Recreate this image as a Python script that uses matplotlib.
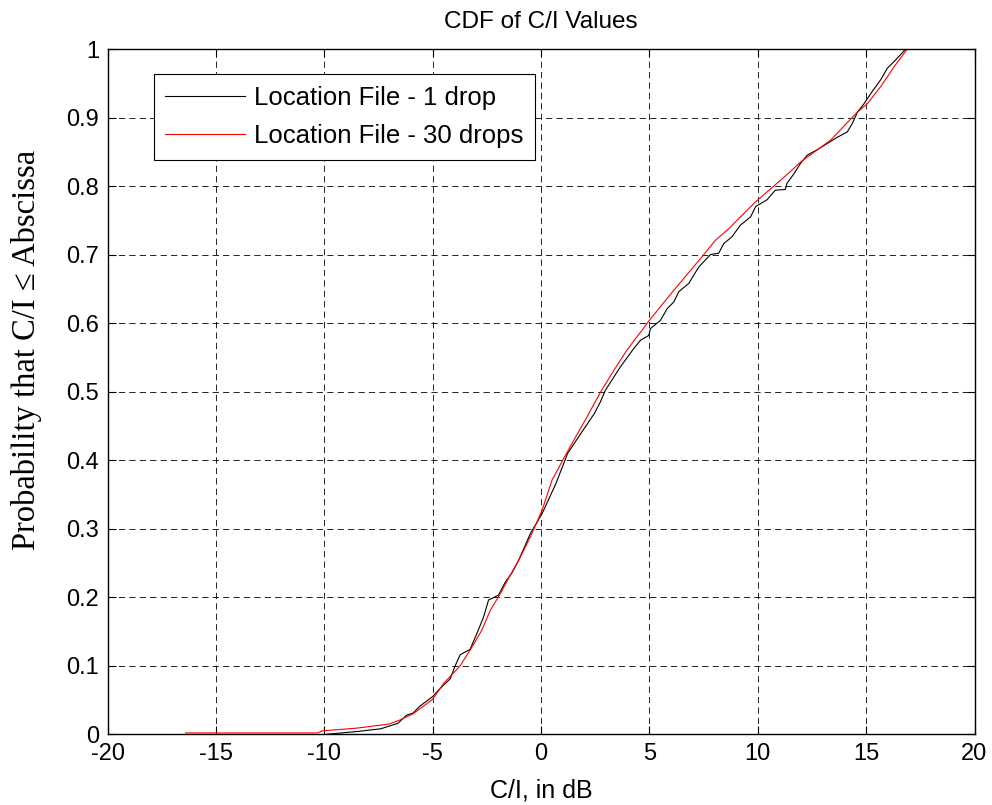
import matplotlib
matplotlib.use("Agg")
import matplotlib.pyplot as plt

# ---- data ----
one_drop_x = [-9.9, -8.5, -7.4, -6.6, -6.2, -5.9, -5.59, -5.0, -4.65, -4.19, -3.96, -3.73,
              -3.27, -2.96, -2.65, -2.42, -1.96, -1.65, -1.35, -1.03, -0.49, 0.05, 0.69,
              1.23, 1.84, 2.46, 2.74, 2.97, 3.66, 4.28, 4.59, 4.97, 5.05, 5.51, 5.82, 6.13,
              6.36, 6.82, 7.28, 7.82, 8.20, 8.43, 8.81, 9.20, 9.67, 9.90, 10.43, 10.81,
              11.27, 11.35, 11.67, 11.97, 12.28, 12.74, 13.20, 13.66, 14.13, 14.36, 14.60,
              14.90, 15.28, 15.67, 15.98, 16.36, 16.83]
one_drop_p = [0.0, 0.004, 0.008, 0.016, 0.028, 0.031, 0.041, 0.055, 0.067, 0.081, 0.100, 0.116,
              0.124, 0.147, 0.171, 0.196, 0.203, 0.222, 0.235, 0.254, 0.293, 0.322, 0.366,
              0.410, 0.439, 0.468, 0.485, 0.502, 0.536, 0.563, 0.575, 0.582, 0.592, 0.604,
              0.621, 0.631, 0.646, 0.658, 0.682, 0.700, 0.702, 0.716, 0.726, 0.743, 0.755,
              0.770, 0.780, 0.794, 0.795, 0.804, 0.818, 0.833, 0.845, 0.853, 0.862, 0.871,
              0.879, 0.891, 0.908, 0.920, 0.938, 0.955, 0.972, 0.984, 1.000]

thirty_drops_x = [-16.4, -10.3, -10.1, -8.5, -7.0, -6.5, -5.9, -5.0, -4.5, -3.73, -3.19, -2.73,
                  -2.34, -1.88, -1.42, -1.03, -0.49, 0.05, 0.51, 0.97, 1.51, 2.12, 2.74, 3.36,
                  3.97, 4.67, 4.90, 5.51, 6.13, 6.90, 7.51, 8.05, 8.67, 9.20, 9.90, 10.74,
                  11.50, 11.97, 13.36, 14.60, 15.05, 15.67, 16.29, 16.90]
thirty_drops_p = [0.002, 0.002, 0.005, 0.009, 0.015, 0.021, 0.030, 0.051, 0.074, 0.100, 0.127,
                  0.152, 0.181, 0.205, 0.232, 0.254, 0.288, 0.327, 0.371, 0.398, 0.429, 0.463,
                  0.499, 0.531, 0.561, 0.590, 0.600, 0.624, 0.648, 0.677, 0.700, 0.721, 0.738,
                  0.755, 0.777, 0.800, 0.821, 0.835, 0.867, 0.908, 0.920, 0.945, 0.974, 1.000]

series_labels = ["Location File - 1 drop", "Location File - 30 drops"]
x_ticks = [-20, -15, -10, -5, 0, 5, 10, 15, 20]
y_ticks = [0, 0.1, 0.2, 0.3, 0.4, 0.5, 0.6, 0.7, 0.8, 0.9, 1.0]
y_tick_labels = ["0", "0.1", "0.2", "0.3", "0.4", "0.5", "0.6", "0.7", "0.8", "0.9", "1"]

plt.rcParams['font.family'] = ['Liberation Sans', 'DejaVu Sans']
plt.rcParams['lines.scale_dashes'] = False

W, H = 992, 805
fig = plt.figure(figsize=(W / 100, H / 100), dpi=100)
L, R, T, B = 107.5, 974.5, 49, 734.3
ax = fig.add_axes([L / W, (H - B) / H, (R - L) / W, (B - T) / H])

ax.plot(one_drop_x, one_drop_p, color='black', lw=0.8, label=series_labels[0])
ax.plot(thirty_drops_x, thirty_drops_p, color='red', lw=0.8, label=series_labels[1])

ax.set_xlim(-20, 20)
ax.set_ylim(0, 1)
ax.set_xticks(x_ticks)
ax.set_xticklabels([str(v) for v in x_ticks])
ax.set_yticks(y_ticks)
ax.set_yticklabels(y_tick_labels)
ax.grid(True, color='black', lw=0.6, linestyle=(0, (4.5, 3.0)))
ax.tick_params(direction='in', top=True, right=True, length=6, width=0.8,
               labelsize=17, pad=6)
for s in ax.spines.values():
    s.set_linewidth(1.0)

ax.set_title("CDF of C/I Values", fontsize=17.5, pad=15)
ax.set_xlabel("C/I, in dB", fontsize=18, labelpad=10)
ax.set_ylabel("Probability that C/I \u2264 Abscissa", fontsize=23.5,
              family=['Liberation Serif', 'DejaVu Serif'])
ax.yaxis.set_label_coords(-0.0755, 0.561)

leg = ax.legend(loc='upper left', bbox_to_anchor=(0.0532, 0.9635), fontsize=18.5,
                frameon=True, fancybox=False, edgecolor='black', framealpha=1,
                borderaxespad=0, handlelength=3.1, handletextpad=0.35,
                borderpad=0.45, labelspacing=0.58)
leg.get_frame().set_linewidth(0.8)

fig.savefig("out.png", dpi=100)
